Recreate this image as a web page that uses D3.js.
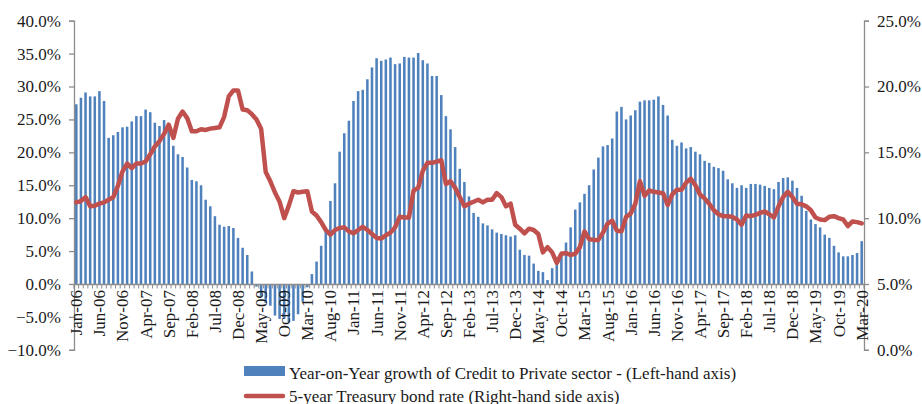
<!DOCTYPE html>
<html>
<head>
<meta charset="utf-8">
<script src="https://cdn.jsdelivr.net/npm/d3@7"></script>
<style>
  html, body { margin: 0; padding: 0; background: #ffffff; }
  svg { display: block; }
  text { font-family: "Liberation Serif", "Times New Roman", serif; fill: #1a1a1a; }
</style>
</head>
<body>
<div id="chart"></div>
<script>
// ---------- DATA ----------
const monthNames = ["Jan","Feb","Mar","Apr","May","Jun","Jul","Aug","Sep","Oct","Nov","Dec"];
const years = ["06","07","08","09","10","11","12","13","14","15","16","17","18","19","20"];
const lastMonthCount = 3; // Jan-20 .. Mar-20
const categories = [];
years.forEach((yy, yi) => {
  const n = yi === years.length - 1 ? lastMonthCount : 12;
  for (let m = 0; m < n; m++) categories.push(monthNames[m] + "-" + yy);
});

// Year-on-Year growth of credit to private sector (%), left axis
const creditGrowth = [
  27.3, 28.3, 29.1, 28.5, 28.5, 29.3, 27.8, 22.2, 22.6, 23.1, 23.8, 23.9,
  24.7, 25.5, 25.5, 26.5, 26.1, 24.5, 24.0, 24.9, 24.0, 21.0, 19.7, 19.3,
  17.7, 15.8, 15.6, 15.0, 12.8, 11.8, 10.3, 9.0, 8.7, 8.8, 8.5, 7.0,
  5.5, 4.4, 1.9, -0.4, -1.9, -2.9, -3.3, -4.8, -5.3, -5.3, -5.8, -5.6,
  -4.6, -2.7, -0.5, 1.5, 3.4, 5.8, 8.6, 12.6, 15.3, 20.1, 22.9, 24.8,
  27.8, 29.3, 29.5, 31.1, 32.9, 34.3, 33.9, 34.1, 34.4, 33.4, 33.5, 34.5,
  34.4, 34.4, 35.1, 34.0, 33.5, 31.6, 31.6, 28.7, 25.5, 23.5, 20.8, 17.5,
  15.5, 13.3, 10.8, 10.2, 9.2, 8.9, 8.3, 7.8, 7.6, 7.4, 7.2, 7.4,
  5.2, 4.4, 4.3, 3.1, 2.0, 1.8, 0.6, 2.4, 3.4, 4.9, 6.3, 8.6,
  11.3, 12.4, 13.7, 15.0, 17.4, 19.2, 20.9, 21.1, 22.1, 26.2, 26.9, 25.0,
  25.6, 26.4, 27.7, 27.9, 27.9, 28.0, 28.5, 27.2, 25.6, 21.9, 21.0, 21.5,
  20.6, 20.8, 20.1, 19.7, 18.7, 18.4, 17.8, 17.6, 17.2, 15.9, 15.3, 14.6,
  15.0, 14.6, 15.2, 15.2, 15.1, 14.9, 14.6, 14.4, 15.5, 16.1, 16.2, 15.7,
  14.6, 13.4, 11.1, 9.8, 9.1, 8.6, 7.5, 7.0, 5.8, 4.8, 4.2, 4.2,
  4.4, 4.7, 6.5
];

// 5-year Treasury bond rate (%), right axis
const bondRate = [
  11.2, 11.3, 11.6, 10.9, 10.95, 11.1, 11.2, 11.4, 11.6, 12.45, 13.55, 14.15,
  13.8, 14.15, 14.15, 14.3, 14.85, 15.45, 15.85, 16.4, 17.1, 16.1, 17.55, 18.1,
  17.6, 16.6, 16.6, 16.75, 16.7, 16.8, 16.85, 16.9, 17.7, 19.25, 19.7, 19.7,
  18.25, 18.2, 17.9, 17.5, 16.8, 13.5, 12.8, 11.95, 11.25, 10.0, 10.95, 12.05,
  11.95, 12.0, 12.05, 10.5, 10.2, 9.7, 9.1, 8.75, 9.1, 9.25, 9.3, 9.0,
  8.85, 9.1, 9.35, 9.1, 8.8, 8.5, 8.45, 8.7, 8.9, 9.3, 10.1, 10.05,
  10.05, 12.1, 12.3, 13.6, 14.2, 14.2, 14.3, 14.4, 12.6, 12.8, 12.3, 11.6,
  10.9, 11.1, 11.25, 11.4, 11.2, 11.4, 11.4, 11.9, 11.6, 10.9, 11.1, 9.5,
  9.2, 8.85, 9.2, 9.1, 8.8, 7.4, 7.8, 7.4, 6.6, 7.3, 7.35, 7.2,
  7.3, 7.8, 9.0, 8.4, 8.35, 8.35, 8.9, 9.6, 9.8, 9.05, 9.0, 10.1,
  10.35, 11.1, 12.8, 11.7, 12.1, 12.0, 11.95, 11.9, 11.0, 11.8, 12.15, 12.15,
  12.7, 13.0, 12.5, 11.8, 11.5, 11.1, 10.6, 10.3, 10.15, 10.15, 10.1, 9.9,
  9.5, 10.2, 10.15, 10.25, 10.4, 10.5, 10.3, 10.05, 10.9, 11.6, 12.0, 11.6,
  11.1, 11.05, 10.9, 10.6, 10.05, 9.9, 9.85, 10.1, 10.15, 10.0, 9.9, 9.4,
  9.75, 9.7, 9.6
];

const leftTicks = [-10, -5, 0, 5, 10, 15, 20, 25, 30, 35, 40];
const rightTicks = [0, 5, 10, 15, 20, 25];
const labelEvery = 5;
const legendLabels = [
  "Year-on-Year growth of Credit to Private sector - (Left-hand axis)",
  "5-year Treasury bond rate (Right-hand side axis)"
];

// ---------- LAYOUT ----------
const W = 922, H = 404;
const plot = { left: 74, right: 864, top: 20.7, bottom: 349.8 };
const BAR = "#4F81BD", LINE = "#C0504D", AXIS = "#8c8c8c";
const FS = 17;
const pctFmt = d => (d < 0 ? "\u2212" : "") + Math.abs(d).toFixed(1) + "%";

const svg = d3.select("#chart").append("svg")
  .attr("width", W).attr("height", H)
  .style("background", "#fff");

const pad = 0.45;
const x = d3.scaleBand().domain(categories)
  .range([plot.left, plot.right]).paddingInner(pad).paddingOuter(pad / 2);
const yL = d3.scaleLinear().domain([-10, 40]).range([plot.bottom, plot.top]);
const yR = d3.scaleLinear().domain([0, 25]).range([plot.bottom, plot.top]);
const cx = d => x(d) + x.bandwidth() / 2;

// bars
svg.append("g").selectAll("rect").data(creditGrowth).join("rect")
  .attr("x", (d, i) => x(categories[i]))
  .attr("width", x.bandwidth())
  .attr("y", d => Math.min(yL(d), yL(0)))
  .attr("height", d => Math.abs(yL(d) - yL(0)))
  .attr("fill", BAR);

// left axis
const gL = svg.append("g").attr("transform", `translate(${plot.left},0)`)
  .call(d3.axisLeft(yL).tickValues(leftTicks).tickSize(5).tickPadding(8).tickFormat(pctFmt));
// right axis
const gR = svg.append("g").attr("transform", `translate(${plot.right},0)`)
  .call(d3.axisRight(yR).tickValues(rightTicks).tickSize(5).tickPadding(8).tickFormat(pctFmt));
[gL, gR].forEach(g => {
  g.selectAll(".domain").attr("stroke", AXIS).attr("stroke-width", 1.3);
  g.selectAll(".tick line").attr("stroke", AXIS).attr("stroke-width", 1.3);
  g.selectAll("text").style("font-size", FS + "px")
    .style("font-family", '"Liberation Serif", "Times New Roman", serif').attr("fill", "#1a1a1a");
});

// x axis (at zero of left axis)
const y0 = yL(0);
const gX = svg.append("g").attr("transform", `translate(0,${y0})`)
  .call(d3.axisBottom(x).tickValues(categories.filter((d, i) => i % labelEvery === 0))
    .tickSize(0).tickPadding(0));
gX.select(".domain").attr("stroke", AXIS).attr("stroke-width", 1.3);
gX.selectAll(".tick text")
  .style("font-size", FS + "px")
  .style("font-family", '"Liberation Serif", "Times New Roman", serif')
  .attr("fill", "#1a1a1a")
  .attr("transform", "rotate(-90)")
  .attr("text-anchor", "end")
  .attr("x", -6).attr("y", 0).attr("dy", "0.35em");
// minor ticks at every category boundary
const step = x.step();
const boundaries = categories.map((d, i) => plot.left + i * step).concat([plot.right]);
gX.append("g").selectAll("line").data(boundaries).join("line")
  .attr("x1", d => d).attr("x2", d => d).attr("y1", 0).attr("y2", 4.5)
  .attr("stroke", AXIS).attr("stroke-width", 1);

// bond line
svg.append("path").datum(bondRate)
  .attr("fill", "none").attr("stroke", LINE).attr("stroke-width", 4.5)
  .attr("stroke-linejoin", "round").attr("stroke-linecap", "round")
  .attr("d", d3.line().x((d, i) => cx(categories[i])).y(d => yR(d)));

// legend
const lg = svg.append("g");
lg.append("rect").attr("x", 244).attr("y", 366).attr("width", 41).attr("height", 10).attr("fill", BAR);
lg.append("text").attr("x", 289).attr("y", 378.5).style("font-size", FS + "px").text(legendLabels[0]);
lg.append("line").attr("x1", 246).attr("x2", 283).attr("y1", 396).attr("y2", 396)
  .attr("stroke", LINE).attr("stroke-width", 4.5).attr("stroke-linecap", "round");
lg.append("text").attr("x", 289).attr("y", 401.5).style("font-size", FS + "px").text(legendLabels[1]);
</script>
</body>
</html>
